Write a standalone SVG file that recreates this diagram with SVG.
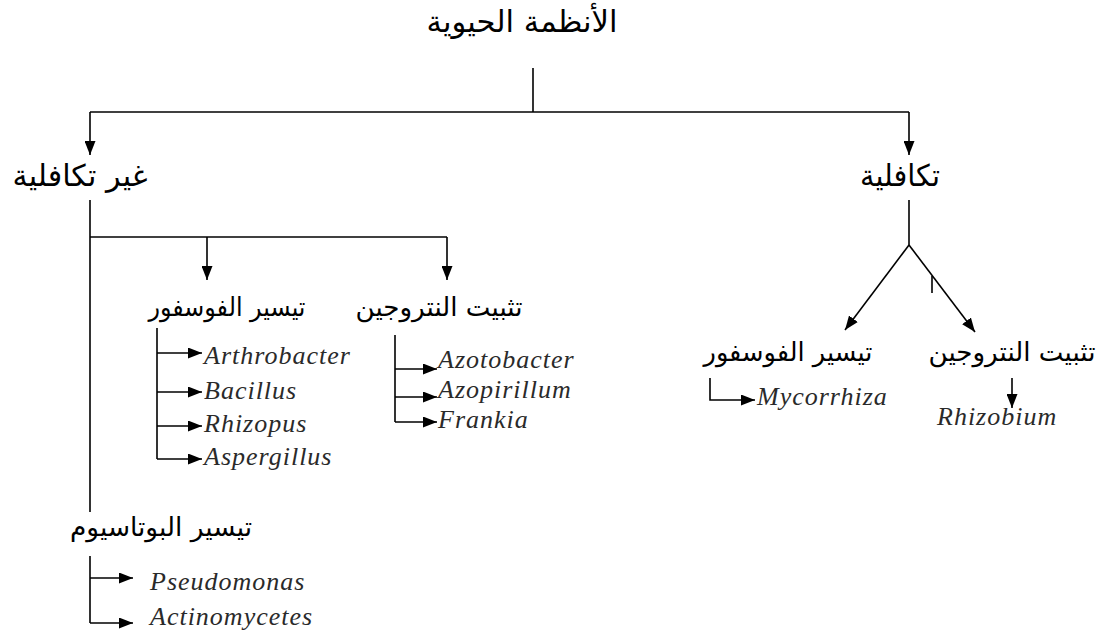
<svg xmlns="http://www.w3.org/2000/svg" width="1101" height="632" viewBox="0 0 1101 632">
<style>
.ar{font-family:"DejaVu Sans","Noto Sans",sans-serif;fill:#000;text-anchor:middle;direction:rtl}
.big{font-size:30px}
.mid{font-size:26px}
.la{font-family:"Liberation Serif","Times New Roman",serif;font-style:italic;font-size:26px;letter-spacing:1px;fill:#2a2a2a}
.ln{stroke:#000;stroke-width:1.6;fill:none}
</style>
<defs>
<marker id="ah" viewBox="0 0 14 11" refX="14" refY="5.5" markerWidth="14" markerHeight="11" markerUnits="userSpaceOnUse" orient="auto">
<path d="M0,0 L14,5.5 L0,11 Z" fill="#000"/>
</marker>
</defs>
<rect width="1101" height="632" fill="#fff"/>
<g id="connectors">
<path class="ln" d="M533,68 V112"/>
<path class="ln" d="M90,112 H909"/>
<path class="ln" d="M90,112 V155" marker-end="url(#ah)"/>
<path class="ln" d="M909,112 V155" marker-end="url(#ah)"/>
<path class="ln" d="M90,200 V512"/>
<path class="ln" d="M90,237 H447"/>
<path class="ln" d="M207,237 V280" marker-end="url(#ah)"/>
<path class="ln" d="M447,237 V280" marker-end="url(#ah)"/>
<path class="ln" d="M157,328 V459"/>
<path class="ln" d="M157,353 H202" marker-end="url(#ah)"/>
<path class="ln" d="M157,392 H202" marker-end="url(#ah)"/>
<path class="ln" d="M157,426 H202" marker-end="url(#ah)"/>
<path class="ln" d="M157,459 H202" marker-end="url(#ah)"/>
<path class="ln" d="M395,335 V422"/>
<path class="ln" d="M395,369 H437" marker-end="url(#ah)"/>
<path class="ln" d="M395,397 H437" marker-end="url(#ah)"/>
<path class="ln" d="M395,422 H437" marker-end="url(#ah)"/>
<path class="ln" d="M90,556 V623"/>
<path class="ln" d="M90,578 H133" marker-end="url(#ah)"/>
<path class="ln" d="M90,623 H133" marker-end="url(#ah)"/>
<path class="ln" d="M909,200 V245"/>
<path class="ln" d="M909,245 L845,330" marker-end="url(#ah)"/>
<path class="ln" d="M909,245 L975,332" marker-end="url(#ah)"/>
<path class="ln" d="M932,276 V293"/>
<path class="ln" d="M710,378 V400 H755" marker-end="url(#ah)"/>
<path class="ln" d="M1012,378 V408" marker-end="url(#ah)"/>
</g>
<g id="n-root"><text class="ar big" x="522" y="32" textLength="191" lengthAdjust="spacingAndGlyphs">الأنظمة الحيوية</text></g>
<g id="n-nonsym"><text class="ar big" x="80" y="186" textLength="135" lengthAdjust="spacingAndGlyphs">غير تكافلية</text></g>
<g id="n-sym"><text class="ar big" x="900" y="186" textLength="80" lengthAdjust="spacingAndGlyphs">تكافلية</text></g>
<g id="n-phos-l"><text class="ar mid" x="227" y="316" textLength="157" lengthAdjust="spacingAndGlyphs">تيسير الفوسفور</text></g>
<g id="n-nitro-l"><text class="ar mid" x="439" y="316" textLength="167" lengthAdjust="spacingAndGlyphs">تثبيت النتروجين</text></g>
<g id="n-phos-r"><text class="ar mid" x="788" y="361" textLength="169" lengthAdjust="spacingAndGlyphs">تيسير الفوسفور</text></g>
<g id="n-nitro-r"><text class="ar mid" x="1012" y="361" textLength="167" lengthAdjust="spacingAndGlyphs">تثبيت النتروجين</text></g>
<g id="n-potas"><text class="ar mid" x="161" y="536" textLength="182" lengthAdjust="spacingAndGlyphs">تيسير البوتاسيوم</text></g>
<g id="n-arthro"><text class="la" x="204" y="364">Arthrobacter</text></g>
<g id="n-bacillus"><text class="la" x="204" y="399">Bacillus</text></g>
<g id="n-rhizopus"><text class="la" x="204" y="432">Rhizopus</text></g>
<g id="n-asperg"><text class="la" x="204" y="465">Aspergillus</text></g>
<g id="n-azoto"><text class="la" x="438" y="368">Azotobacter</text></g>
<g id="n-azopi"><text class="la" x="438" y="398">Azopirillum</text></g>
<g id="n-frankia"><text class="la" x="438" y="428">Frankia</text></g>
<g id="n-pseudo"><text class="la" x="150" y="590">Pseudomonas</text></g>
<g id="n-actino"><text class="la" x="150" y="625">Actinomycetes</text></g>
<g id="n-mycor"><text class="la" x="757" y="405">Mycorrhiza</text></g>
<g id="n-rhizob"><text class="la" x="937" y="425">Rhizobium</text></g>
</svg>
